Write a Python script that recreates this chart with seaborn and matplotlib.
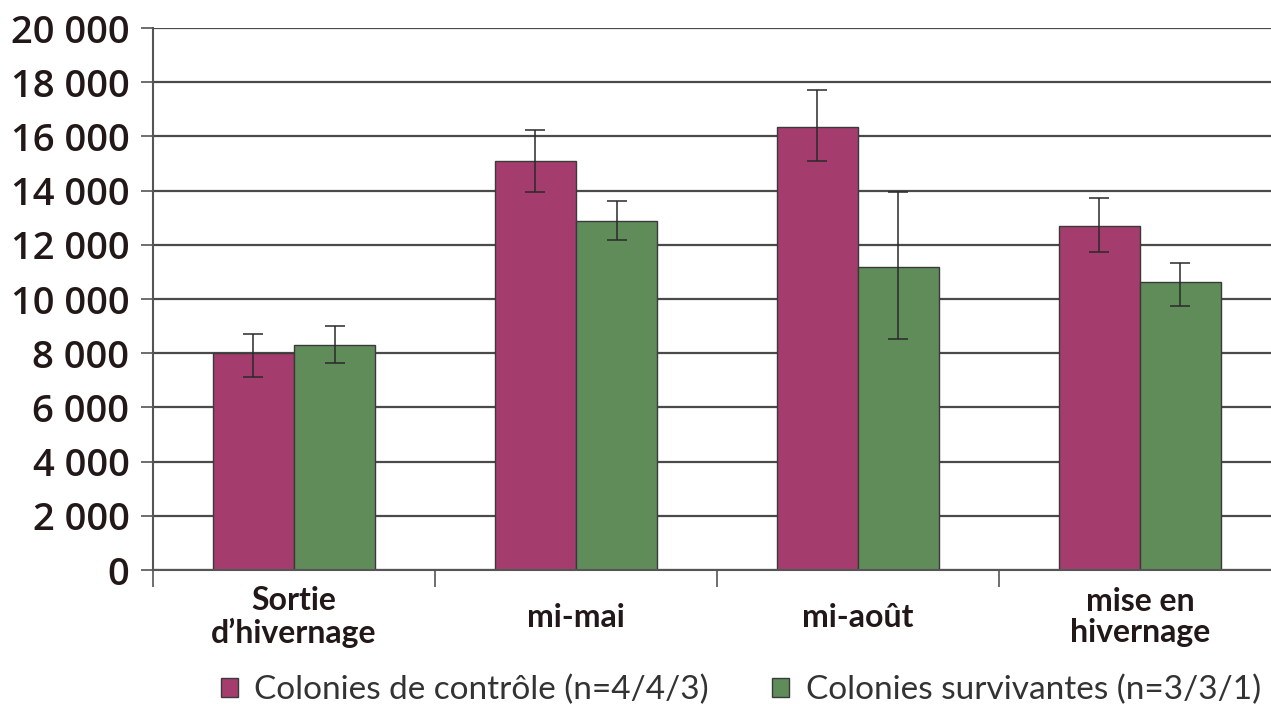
import numpy as np
import pandas as pd
import matplotlib
matplotlib.use("Agg")
import matplotlib.pyplot as plt
import seaborn as sns
from matplotlib.ticker import FuncFormatter, FixedLocator

# bar values
CATEGORIES = ["Sortie\nd\u2019hivernage", "mi-mai", "mi-ao\u00fbt", "mise en\nhivernage"]
SERIES = ["Colonies de contr\u00f4le (n=4/4/3)", "Colonies survivantes (n=3/3/1)"]
CONTROL = [8000, 15100, 16340, 12690]
CONTROL_LO = [7130, 13940, 15090, 11730]
CONTROL_HI = [8710, 16240, 17700, 13740]
SURV = [8300, 12880, 11190, 10620]
SURV_LO = [7650, 12180, 8510, 9750]
SURV_HI = [9020, 13620, 13940, 11340]
YTICKS = [0, 2000, 4000, 6000, 8000, 10000, 12000, 14000, 16000, 18000, 20000]

PALETTE = {SERIES[0]: "#a43d6e", SERIES[1]: "#5f8c59"}

# long-form table for seaborn
df = pd.DataFrame({
    "period": CATEGORIES * 2,
    "group": [SERIES[0]] * 4 + [SERIES[1]] * 4,
    "value": CONTROL + SURV,
    "lo": CONTROL_LO + SURV_LO,
    "hi": CONTROL_HI + SURV_HI,
})

sns.set_style("white")
plt.rcParams["font.family"] = ["Open Sans", "DejaVu Sans"]

fig = plt.figure(figsize=(12.71, 7.04), dpi=100)
ax = fig.add_axes([0.1204, 0.1903, 0.8796, 0.7699])

sns.barplot(data=df, x="period", y="value", hue="group", order=CATEGORIES,
            hue_order=SERIES, palette=PALETTE, width=0.575, errorbar=None,
            edgecolor="#3a3a3a", linewidth=1.0, saturation=1, ax=ax, zorder=2)

# asymmetric error bars on each bar
for cont, s in zip(ax.containers, SERIES):
    sub = df[df["group"] == s].set_index("period").loc[CATEGORIES]
    xs = [b.get_x() + b.get_width() / 2 for b in cont]
    hs = sub["value"].to_numpy()
    yerr = [hs - sub["lo"].to_numpy(), sub["hi"].to_numpy() - hs]
    ax.errorbar(xs, hs, yerr=yerr, fmt="none", ecolor="#2a2a2a",
                elinewidth=1.1, capsize=7.5, capthick=1.1, zorder=3)

ax.set_ylim(0, 20000)
ax.set_xlim(-0.5, 3.465)
ax.yaxis.set_major_locator(FixedLocator(YTICKS))
ax.yaxis.set_major_formatter(FuncFormatter(lambda v, p: f"{int(v):,}".replace(",", " ")))
ax.yaxis.grid(True, color="#4a4a4a", lw=1.6)
ax.set_axisbelow(True)

for side in ["top", "right"]:
    ax.spines[side].set_visible(False)
for side in ["left", "bottom"]:
    ax.spines[side].set_color("#555555")
    ax.spines[side].set_linewidth(1.5)

ax.tick_params(axis="y", direction="out", length=9, width=1.2, color="#555555",
               labelsize=27.5, labelcolor="#221818", pad=8, left=True)
for t in ax.get_yticklabels():
    t.set_fontweight("semibold")

ax.set_xticks(range(len(CATEGORIES)))
ax.set_xticklabels(CATEGORIES, va="center", fontsize=23, fontweight="bold",
                   color="#221818", linespacing=1.1,
                   family=["Lato", "DejaVu Sans"])
ax.tick_params(axis="x", which="major", length=0, pad=34)
ax.set_xticks([-0.5, 0.5, 1.5, 2.5], minor=True)
ax.tick_params(axis="x", which="minor", direction="out", length=12, width=1.2,
               color="#555555", bottom=True)

ax.set_xlabel("")
ax.set_ylabel("")

handles, labels = ax.get_legend_handles_labels()
ax.get_legend().remove()
fig.legend(handles, labels, loc="center", bbox_to_anchor=(0.583, 0.02),
           ncol=2, frameon=False, handlelength=0.5, handleheight=0.5,
           handletextpad=0.5, columnspacing=1.9,
           prop={"family": ["Lato", "DejaVu Sans"], "size": 24},
           labelcolor="#333333")

fig.savefig("out.png", dpi=100)
